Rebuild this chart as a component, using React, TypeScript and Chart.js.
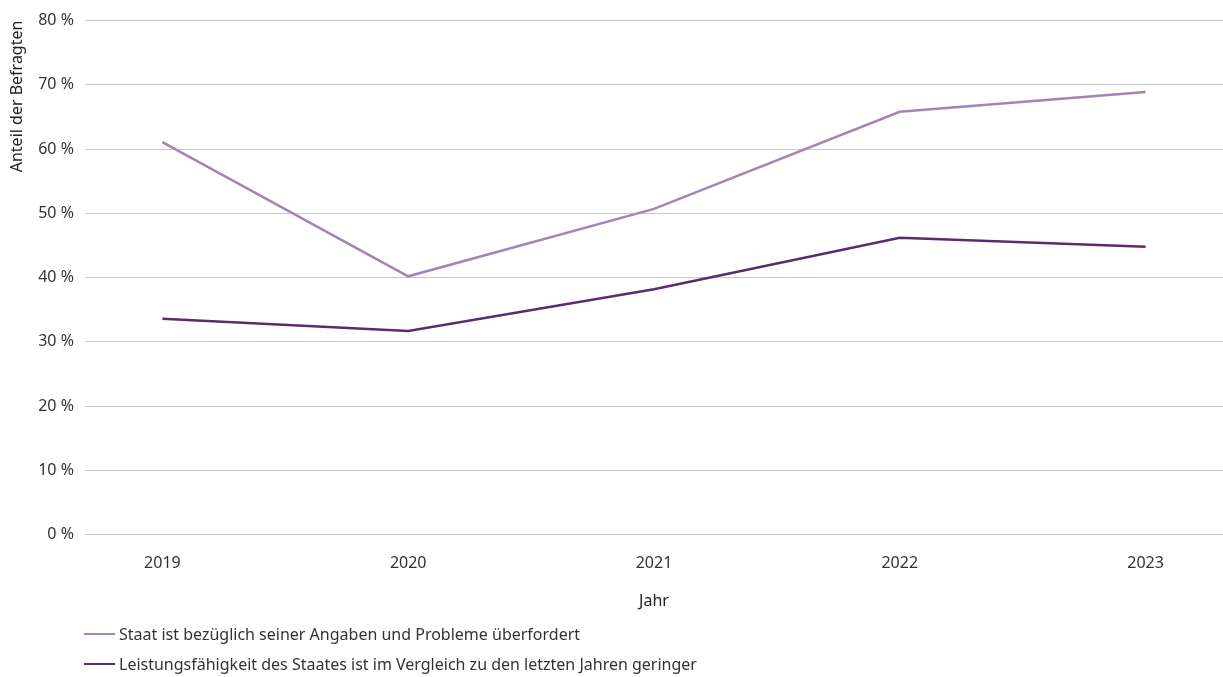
import React, { useEffect, useRef } from "react";
import { Chart, registerables } from "chart.js";

Chart.register(...registerables);

const years = [2019, 2020, 2021, 2022, 2023];
const overwhelmedShare = [61.1, 40.2, 50.7, 65.8, 68.9];
const lowerCapacityShare = [33.6, 31.7, 38.2, 46.2, 44.8];
const seriesLabels = [
  "Staat ist bezüglich seiner Angaben und Probleme überfordert",
  "Leistungsfähigkeit des Staates ist im Vergleich zu den letzten Jahren geringer",
];
const seriesColors = ["#a385b5", "#5c2a6f"];
const yTickValues = [0, 10, 20, 30, 40, 50, 60, 70, 80];
const yTitle = "Anteil der Befragten";
const xTitle = "Jahr";

const FONT = "'Noto Sans', 'Open Sans', sans-serif";
const FS = 16;

export default function App() {
  const canvasRef = useRef<HTMLCanvasElement | null>(null);

  useEffect(() => {
    document.body.style.margin = "0";
    const ctx = canvasRef.current;
    if (!ctx) return;
    const series = [overwhelmedShare, lowerCapacityShare];
    const chart = new Chart(ctx, {
      type: "line",
      data: {
        datasets: series.map((vals, i) => ({
          label: seriesLabels[i],
          data: vals.map((v, j) => ({ x: years[j], y: v })),
          borderColor: seriesColors[i],
          backgroundColor: seriesColors[i],
          borderWidth: 2.5,
          pointRadius: 0,
          tension: 0,
        })),
      },
      options: {
        animation: false,
        responsive: false,
        maintainAspectRatio: false,
        layout: { padding: { top: 12, right: 0, bottom: 7, left: 2 } },
        plugins: {
          legend: { display: false },
          tooltip: { enabled: false },
        },
        scales: {
          x: {
            type: "linear",
            min: years[0] - 0.315,
            max: years[years.length - 1] + 0.315,
            afterBuildTicks: (axis: any) => {
              axis.ticks = years.map((v) => ({ value: v }));
            },
            grid: { display: false, drawTicks: false },
            border: { display: false },
            ticks: {
              padding: 19,
              color: "#333",
              font: { family: FONT, size: FS },
              callback: (v: any) => String(v),
            },
            title: {
              display: true,
              text: xTitle,
              color: "#222",
              font: { family: FONT, size: FS },
              padding: { top: 0, bottom: 0 },
            },
          },
          y: {
            min: 0,
            max: 80,
            afterBuildTicks: (axis: any) => {
              axis.ticks = yTickValues.map((v) => ({ value: v }));
            },
            grid: { color: "#c8c8c8", lineWidth: 1, drawTicks: false },
            border: { display: false },
            ticks: {
              padding: 11,
              color: "#333",
              font: { family: FONT, size: FS },
              callback: (v: any) => `${v} %`,
            },
            title: {
              display: true,
              text: yTitle,
              align: "end",
              color: "#222",
              font: { family: FONT, size: FS },
              padding: { top: 6, bottom: 0 },
            },
          },
        },
      },
    });
    return () => chart.destroy();
  }, []);

  return (
    <div
      style={{
        position: "fixed",
        left: 0,
        top: 0,
        width: 1223,
        height: 677,
        background: "#fff",
        fontFamily: FONT,
      }}
    >
      <canvas ref={canvasRef} width={1223} height={618} style={{ display: "block" }} />
      <div style={{ position: "absolute", left: 84, top: 622 }}>
        {seriesLabels.map((label, i) => (
          <div
            key={label}
            style={{
              display: "flex",
              alignItems: "center",
              height: 24,
              marginBottom: 6,
              fontSize: FS,
              color: "#333",
            }}
          >
            <span
              style={{
                display: "inline-block",
                width: 31,
                height: 2,
                background: seriesColors[i],
                marginRight: 4,
              }}
            />
            <span>{label}</span>
          </div>
        ))}
      </div>
    </div>
  );
}
